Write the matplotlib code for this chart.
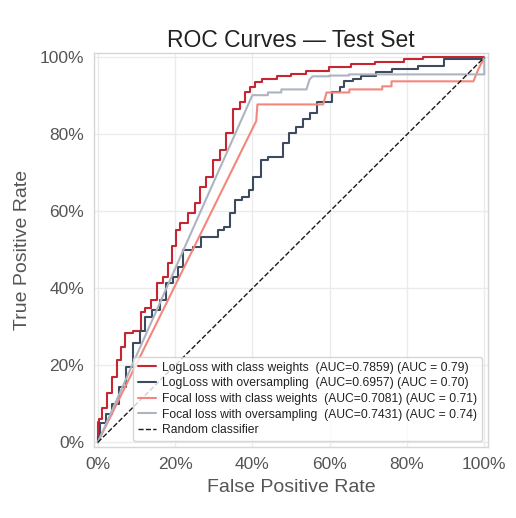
import matplotlib
matplotlib.use("Agg")
import matplotlib.pyplot as plt
import seaborn as sns

sns.set_theme(style="whitegrid")
plt.rcParams['font.family'] = ['Liberation Sans', 'DejaVu Sans']

# ROC points (fpr, tpr) for each model
fpr_ll_cw = [0.0, 0.0, 0.005, 0.018, 0.031, 0.044, 0.057, 0.065, 0.075, 0.109, 0.116, 0.129,
             0.147, 0.16, 0.178, 0.186, 0.2, 0.207, 0.22, 0.245, 0.258, 0.271, 0.289, 0.307,
             0.323, 0.341, 0.359, 0.375, 0.388, 0.40, 0.415, 0.437, 0.488, 0.514, 0.566,
             0.633, 0.677, 0.755, 0.832, 0.85, 1.0]
tpr_ll_cw = [0.0, 0.052, 0.06, 0.09, 0.128, 0.17, 0.213, 0.247, 0.284, 0.29, 0.339, 0.349,
             0.37, 0.414, 0.43, 0.466, 0.51, 0.552, 0.57, 0.596, 0.622, 0.664, 0.69, 0.734,
             0.76, 0.805, 0.865, 0.883, 0.909, 0.922, 0.935, 0.943, 0.951, 0.958, 0.964,
             0.974, 0.982, 0.987, 0.997, 1.0, 1.0]

fpr_ll_os = [0.0, 0.0, 0.013, 0.031, 0.044, 0.065, 0.083, 0.10, 0.116, 0.129, 0.152, 0.168,
             0.186, 0.204, 0.212, 0.23, 0.264, 0.271, 0.307, 0.315, 0.336, 0.349, 0.359,
             0.385, 0.398, 0.406, 0.437, 0.444, 0.47, 0.488, 0.504, 0.522, 0.54, 0.556,
             0.581, 0.592, 0.618, 0.633, 0.643, 0.677, 0.685, 0.755, 0.767, 0.891, 0.902,
             1.0, 1.0]
tpr_ll_os = [0.0, 0.013, 0.05, 0.075, 0.10, 0.143, 0.195, 0.258, 0.29, 0.326, 0.343, 0.37,
             0.414, 0.43, 0.456, 0.5, 0.508, 0.534, 0.534, 0.552, 0.56, 0.596, 0.63,
             0.638, 0.656, 0.69, 0.734, 0.742, 0.742, 0.779, 0.805, 0.82, 0.839, 0.857,
             0.883, 0.885, 0.909, 0.924, 0.938, 0.943, 0.951, 0.961, 0.969, 0.977, 0.995,
             0.995, 1.0]

fpr_fl_cw = [0.0, 0.41, 0.413, 0.583, 0.592, 0.651, 0.651, 0.736, 0.736, 0.76, 0.76,
             0.972, 0.985, 1.0]
tpr_fl_cw = [0.0, 0.835, 0.878, 0.878, 0.909, 0.909, 0.917, 0.917, 0.925, 0.925, 0.938,
             0.938, 0.97, 1.0]

fpr_fl_os = [0.0, 0.40, 0.44, 0.44, 0.475, 0.475, 0.54, 0.548, 0.556, 0.60, 0.60, 0.65,
             0.65, 1.0, 1.0]
tpr_fl_os = [0.0, 0.902, 0.902, 0.909, 0.909, 0.917, 0.917, 0.943, 0.951, 0.951, 0.953,
             0.953, 0.956, 0.956, 1.0]

labels = [
    "LogLoss with class weights  (AUC=0.7859) (AUC = 0.79)",
    "LogLoss with oversampling  (AUC=0.6957) (AUC = 0.70)",
    "Focal loss with class weights  (AUC=0.7081) (AUC = 0.71)",
    "Focal loss with oversampling  (AUC=0.7431) (AUC = 0.74)",
]
colors = ["#c62631", "#3e4a5d", "#f4877d", "#aeb4bf"]

fig = plt.figure(figsize=(5.16, 5.18), dpi=100)
ax = fig.add_axes([0.182, 0.137, 0.764, 0.761])

# the log-loss curves are staircases; steps-mid keeps the read points on the line
ax.plot(fpr_ll_cw, tpr_ll_cw, drawstyle="steps-mid", color=colors[0], lw=1.5, label=labels[0])
ax.plot(fpr_ll_os, tpr_ll_os, drawstyle="steps-mid", color=colors[1], lw=1.5, label=labels[1])
ax.plot(fpr_fl_cw, tpr_fl_cw, color=colors[2], lw=1.5, label=labels[2])
ax.plot(fpr_fl_os, tpr_fl_os, color=colors[3], lw=1.5, label=labels[3])
ax.plot([0, 1], [0, 1], "k--", lw=1, label="Random classifier")

ax.set_xlim(-0.01, 1.01)
ax.set_ylim(-0.012, 1.012)
ticks = [0, 0.2, 0.4, 0.6, 0.8, 1.0]
ax.set_xticks(ticks)
ax.set_yticks(ticks)
ax.set_xticklabels([f"{int(t*100)}%" for t in ticks])
ax.set_yticklabels([f"{int(t*100)}%" for t in ticks])
ax.tick_params(labelsize=12.5, colors="#555555", pad=7, length=0)
ax.grid(color="#ebebeb", lw=1)
for s in ax.spines.values():
    s.set_color("#d6d6d6")
    s.set_linewidth(1)

ax.set_xlabel("False Positive Rate", fontsize=14, color="#555555", labelpad=5)
ax.set_ylabel("True Positive Rate", fontsize=14, color="#555555", labelpad=6)
ax.set_title("ROC Curves \u2014 Test Set", fontsize=16.5, color="#222222", pad=4)

leg = ax.legend(loc="lower right", fontsize=8.7, labelspacing=0.3, handlelength=1.5,
                handletextpad=0.5, borderpad=0.4, borderaxespad=0.5, frameon=True)
leg.get_frame().set_edgecolor("#cccccc")
leg.get_frame().set_facecolor("white")
for t in leg.get_texts():
    t.set_color("#222222")

fig.savefig("out.png", dpi=100)
